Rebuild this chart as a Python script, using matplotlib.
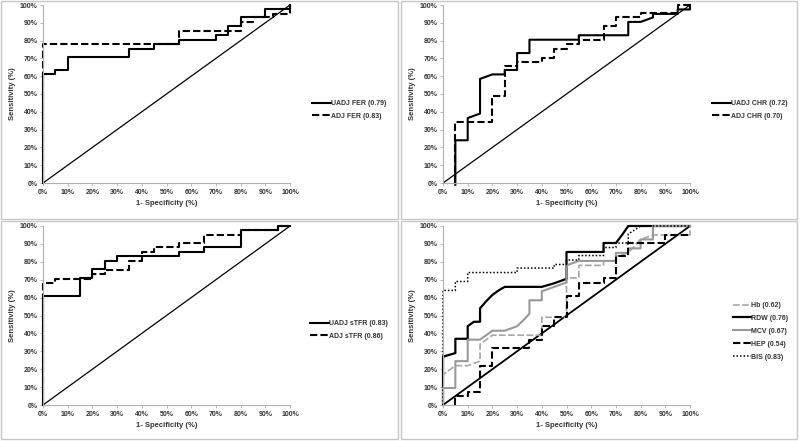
import matplotlib.pyplot as plt
from matplotlib.patches import Rectangle
from matplotlib.ticker import PercentFormatter

plt.rcParams['font.family'] = ['Liberation Sans', 'DejaVu Sans']

# ROC curves, (1-specificity %, sensitivity %) pairs
uadj_fer_x = [0, 0, 5, 5, 10, 10, 35, 35, 45, 45, 55, 55, 70, 70, 75, 75, 80, 80, 90, 90, 100, 100]
uadj_fer_y = [0, 61, 61, 63.5, 63.5, 71, 71, 75.5, 75.5, 78, 78, 80.5, 80.5, 83, 83, 88, 88, 93, 93, 97.5, 97.5, 100]
adj_fer_x = [0, 0, 55, 55, 80, 80, 85, 85, 93, 93, 100, 100]
adj_fer_y = [0, 78, 78, 85.5, 85.5, 90.5, 90.5, 93, 93, 95, 95, 100]

uadj_chr_x = [5, 5, 10, 10, 15, 15, 20, 25, 25, 30, 30, 35, 35, 55, 55, 75, 75, 80, 85, 85, 95, 95, 100, 100]
uadj_chr_y = [-1, 24, 24, 36.5, 39, 58.5, 61, 61, 63.5, 63.5, 73, 73, 80.5, 80.5, 83, 83, 90.5, 90.5, 93, 95, 95, 97.5, 97.5, 100]
adj_chr_x = [5, 5, 20, 20, 25, 25, 30, 30, 40, 40, 45, 45, 50, 50, 55, 55, 65, 65, 70, 70, 80, 80, 95, 95, 100]
adj_chr_y = [0, 34, 34, 49, 49, 66, 66, 68, 68, 70.5, 70.5, 75.5, 75.5, 78, 78, 80.5, 80.5, 88, 88, 93, 93, 95.5, 95.5, 100, 100]

uadj_stfr_x = [0, 0, 15, 15, 20, 20, 25, 25, 30, 30, 55, 55, 65, 65, 80, 80, 95, 95, 100]
uadj_stfr_y = [0, 61, 61, 71, 71, 76, 76, 80.5, 80.5, 83, 83, 85.5, 85.5, 88, 88, 97.5, 97.5, 100, 100]
adj_stfr_x = [0, 0, 5, 5, 20, 20, 25, 25, 35, 35, 40, 40, 45, 45, 55, 55, 65, 65, 80, 80, 95, 95, 100]
adj_stfr_y = [0, 68, 68, 70.5, 70.5, 73, 73, 75.5, 75.5, 80.5, 80.5, 85.5, 85.5, 88, 88, 90.5, 90.5, 95, 95, 97.5, 97.5, 100, 100]

hb_x = [0, 0, 5, 10, 15, 15, 20, 40, 40, 50, 50, 55, 55, 65, 65, 70, 70, 75, 80, 85, 100, 100]
hb_y = [0, 17, 22, 22, 24.5, 34, 39, 39, 49, 49, 71, 71, 78, 78, 80.5, 80.5, 83, 85, 92.5, 95, 95, 100]
rdw_x = [0, 0, 5, 5, 10, 10, 12.5, 15, 15, 17.5, 20, 22.5, 25, 40, 45, 50, 50, 65, 65, 70, 72.5, 75, 100]
rdw_y = [0, 27, 29, 37, 37, 44, 46.5, 46.5, 54, 58, 61.5, 64, 66, 66, 68, 70.5, 85.5, 85.5, 90.5, 90.5, 95, 100, 100]
mcv_x = [0, 0, 5, 5, 10, 10, 15, 20, 25, 30, 33, 35, 35, 40, 40, 45, 50, 50, 55, 70, 70, 75, 75, 80, 80, 85, 85, 100]
mcv_y = [0, 9.5, 9.5, 24.5, 24.5, 36.5, 36.5, 41.5, 41.5, 44, 48, 51, 58.5, 58.5, 63.5, 66, 68.5, 78, 80.5, 80.5, 85, 85, 87.5, 87.5, 92.5, 92.5, 100, 100]
hep_x = [5, 5, 10, 10, 15, 15, 20, 20, 35, 35, 40, 40, 45, 45, 50, 50, 55, 55, 65, 65, 70, 70, 75, 75, 90, 90, 100]
hep_y = [0, 5, 5, 7.5, 7.5, 22, 22, 32, 32, 36.5, 36.5, 44, 44, 49, 49, 61, 61, 68, 68, 71, 71, 83, 83, 90.5, 90.5, 95, 95]
bis_x = [0, 0, 5, 5, 10, 10, 30, 30, 45, 45, 50, 50, 55, 55, 65, 65, 70, 70, 75, 75, 80, 100]
bis_y = [0, 64, 64, 69, 69, 74, 74, 76.5, 76.5, 78.5, 78.5, 81, 81, 83.5, 83.5, 88, 88, 90.5, 90.5, 95.5, 100, 100]

W, H = 800, 441
fig = plt.figure(figsize=(W / 100, H / 100), dpi=100)

# panel frames (pixels: x0, y0 top, x1, y1 bottom)
for x0, y0, x1, y1 in [(1, 1, 398, 219), (401, 1, 797, 219), (1, 221, 398, 439), (401, 221, 797, 439)]:
    fig.patches.append(Rectangle((x0 / W, 1 - y1 / H), (x1 - x0) / W, (y1 - y0) / H,
                                 transform=fig.transFigure, fill=False,
                                 edgecolor='#c8c8c8', lw=1.0))

txt = '#333333'


def make_ax(left, top, right, bottom, diag_lw=0.9):
    ax = fig.add_axes([left / W, 1 - bottom / H, (right - left) / W, (bottom - top) / H])
    ax.set_xlim(0, 100)
    ax.set_ylim(0, 100)
    ax.set_xticks(range(0, 101, 10))
    ax.set_yticks(range(0, 101, 10))
    ax.xaxis.set_major_formatter(PercentFormatter(decimals=0))
    ax.yaxis.set_major_formatter(PercentFormatter(decimals=0))
    for s in ['top', 'right']:
        ax.spines[s].set_visible(False)
    for s in ['left', 'bottom']:
        ax.spines[s].set_color('#b0b0b0')
        ax.spines[s].set_linewidth(0.8)
    ax.tick_params(length=2, width=0.6, color='#b0b0b0', labelsize=5, labelcolor=txt, pad=2)
    for lab in ax.get_xticklabels() + ax.get_yticklabels():
        lab.set_fontweight('bold')
    ax.set_xlabel('1- Specificity (%)', fontsize=5.5, fontweight='bold', color=txt, labelpad=3)
    ax.set_ylabel('Sensitivity (%)', fontsize=5.5, fontweight='bold', color=txt, labelpad=3)
    ax.plot([0, 100], [0, 100], color='black', lw=diag_lw, zorder=1)
    ax.patch.set_visible(False)
    return ax


def add_legend(ax, x, y, spacing=0.8, hlen=2.7):
    leg = ax.legend(loc='upper left', bbox_to_anchor=(x / W, 1 - y / H), bbox_transform=fig.transFigure,
                    frameon=False, fontsize=5, handlelength=hlen, handletextpad=0.05,
                    labelspacing=spacing, borderpad=0, borderaxespad=0)
    for t in leg.get_texts():
        t.set_fontweight('bold')
        t.set_color(txt)


dash = (0, (3.5, 1.5))

ax1 = make_ax(43, 5, 290, 183)
ax1.plot(uadj_fer_x, uadj_fer_y, color='black', lw=1.5, label='UADJ FER (0.79)', clip_on=False)
ax1.plot(adj_fer_x, adj_fer_y, color='black', lw=1.5, ls=dash, label='ADJ FER (0.83)', clip_on=False)
add_legend(ax1, 312, 100)

ax2 = make_ax(443, 5, 690, 183)
ax2.plot(uadj_chr_x, uadj_chr_y, color='black', lw=1.5, label='UADJ CHR (0.72)', clip_on=False)
ax2.plot(adj_chr_x, adj_chr_y, color='black', lw=1.5, ls=dash, label='ADJ CHR (0.70)', clip_on=False)
add_legend(ax2, 712, 100)

ax3 = make_ax(43, 226, 290, 405)
ax3.plot(uadj_stfr_x, uadj_stfr_y, color='black', lw=1.5, label='UADJ sTFR (0.83)', clip_on=False)
ax3.plot(adj_stfr_x, adj_stfr_y, color='black', lw=1.5, ls=dash, label='ADJ sTFR (0.86)', clip_on=False)
add_legend(ax3, 310, 320)

ax4 = make_ax(443, 226, 690, 405, diag_lw=1.3)
ax4.plot(hb_x, hb_y, color='#a6a6a6', lw=1.2, ls=(0, (4, 1.5)), label='Hb (0.62)', clip_on=False)
ax4.plot(rdw_x, rdw_y, color='black', lw=1.6, label='RDW (0.76)', clip_on=False)
ax4.plot(mcv_x, mcv_y, color='#999999', lw=1.5, label='MCV (0.67)', clip_on=False)
ax4.plot(hep_x, hep_y, color='black', lw=1.5, ls=dash, label='HEP (0.54)', clip_on=False)
ax4.plot(bis_x, bis_y, color='black', lw=1.1, ls=(0, (1, 1.3)), label='BIS (0.83)', clip_on=False)
add_legend(ax4, 733, 302, spacing=0.85, hlen=2.6)

fig.savefig('out.png', dpi=100)
